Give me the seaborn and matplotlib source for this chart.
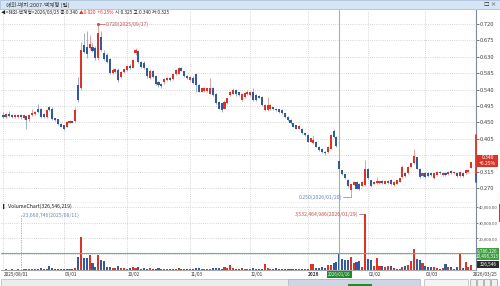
import matplotlib
matplotlib.use("Agg")
import matplotlib.pyplot as plt
import seaborn as sns
import pandas as pd
import numpy as np
from matplotlib.patches import Rectangle

sns.set_style("white")
plt.rcParams['font.family'] = ['Noto Sans CJK KR', 'DejaVu Sans']

# ---------------- data ----------------
open_ = [.470, .465, .474, .470, .465, .466, .471, .461, .467, .458, .470, .473, .488, .486, .472, .464,
         .491, .488, .461, .458, .445, .442, .438, .449, .453, .454, .552, .543, .662, .658, .653, .658,
         .653, .626, .685, .640, .635, .623, .585, .588, .594, .575, .588, .594, .606, .600, .640, .645,
         .615, .614, .598, .573, .590, .578, .560, .556, .560, .565, .572, .568, .582, .584, .600, .590,
         .578, .566, .573, .584, .552, .534, .535, .535, .529, .543, .529, .507, .502, .488, .502, .525,
         .529, .539, .532, .511, .520, .527, .525, .534, .525, .522, .520, .484, .484, .486, .491, .488,
         .486, .484, .475, .465, .456, .447, .442, .433, .433, .420, .415, .397, .392, .397, .383, .378,
         .369, .369, .378, .425, .410, .345, .318, .307, .293, .265, .279, .287, .282, .275, .278, .322,
         .291, .282, .283, .283, .289, .282, .283, .292, .278, .282, .287, .300, .312, .310, .328, .337,
         .354, .323, .302, .311, .311, .310, .296, .305, .314, .305, .311, .307, .316, .310, .311, .302,
         .310, .310, .314, .325]
high = [.478, .476, .480, .474, .473, .474, .474, .472, .470, .472, .486, .482, .500, .490, .475, .488,
        .495, .491, .463, .460, .447, .444, .455, .456, .455, .491, .575, .671, .694, .702, .690, .668,
        .660, .720, .700, .650, .640, .626, .598, .600, .598, .592, .600, .608, .610, .625, .655, .648,
        .618, .618, .600, .596, .593, .581, .563, .558, .572, .575, .575, .585, .596, .603, .603, .592,
        .580, .578, .576, .586, .555, .545, .546, .545, .571, .546, .531, .509, .504, .510, .518, .537,
        .543, .541, .534, .531, .533, .540, .536, .543, .527, .524, .522, .500, .520, .499, .493, .490,
        .488, .486, .477, .467, .458, .449, .444, .442, .435, .422, .417, .408, .415, .399, .385, .380,
        .371, .385, .417, .433, .412, .347, .320, .309, .295, .282, .289, .289, .284, .289, .346, .324,
        .293, .289, .300, .290, .293, .292, .291, .294, .289, .293, .298, .332, .314, .330, .339, .378,
        .356, .325, .312, .313, .313, .312, .312, .316, .316, .313, .313, .316, .318, .316, .313, .316,
        .312, .321, .322, .340]
low = [.462, .462, .465, .462, .462, .463, .460, .458, .433, .455, .468, .470, .477, .463, .462, .462,
       .482, .456, .454, .443, .436, .429, .436, .447, .447, .452, .506, .540, .640, .626, .648, .644,
       .620, .622, .645, .620, .614, .582, .582, .585, .562, .572, .586, .592, .596, .598, .636, .612,
       .600, .596, .573, .570, .572, .552, .548, .543, .556, .563, .563, .566, .580, .582, .590, .575,
       .569, .564, .555, .534, .532, .532, .533, .533, .527, .523, .500, .486, .479, .486, .500, .523,
       .527, .523, .522, .509, .518, .525, .523, .509, .509, .516, .495, .482, .482, .484, .484, .482,
       .477, .473, .463, .454, .445, .436, .431, .431, .418, .413, .395, .395, .390, .381, .372, .367,
       .360, .367, .376, .408, .383, .321, .305, .294, .273, .250, .277, .266, .264, .273, .276, .294,
       .273, .280, .281, .281, .282, .280, .281, .278, .276, .280, .285, .298, .301, .308, .326, .335,
       .321, .298, .300, .298, .300, .303, .294, .303, .308, .303, .303, .305, .308, .308, .300, .300,
       .300, .308, .312, .325]
close = [.466, .472, .468, .465, .470, .471, .464, .470, .456, .470, .476, .479, .479, .465, .465, .484,
         .484, .458, .456, .445, .438, .433, .452, .453, .449, .484, .511, .650, .644, .639, .665, .647,
         .626, .694, .648, .623, .617, .585, .594, .596, .566, .589, .596, .605, .598, .622, .650, .615,
         .603, .598, .576, .592, .575, .555, .552, .551, .570, .572, .566, .582, .594, .598, .592, .577,
         .571, .575, .557, .552, .534, .543, .543, .543, .543, .525, .502, .488, .484, .507, .516, .534,
         .540, .529, .525, .529, .530, .534, .534, .511, .511, .518, .497, .497, .497, .497, .486, .484,
         .479, .475, .465, .456, .447, .438, .433, .440, .420, .415, .397, .406, .401, .383, .374, .369,
         .366, .383, .415, .410, .385, .323, .307, .296, .275, .280, .287, .268, .266, .287, .322, .296,
         .275, .287, .289, .288, .284, .290, .289, .280, .287, .291, .296, .328, .303, .328, .337, .357,
         .323, .300, .310, .300, .302, .305, .310, .314, .310, .311, .305, .314, .310, .314, .302, .314,
         .302, .319, .320, .340]
volume = [300, 400, 300, 500, 300, 400, 237, 500, 900, 700, 500, 400, 800, 1000, 600, 700,
          2600, 1200, 700, 600, 500, 700, 500, 400, 600, 1500, 8300, 20600, 7300, 7500, 9600, 4700,
          1800, 9600, 6600, 5600, 1900, 1900, 1300, 1500, 2500, 1400, 1000, 900, 1000, 1800, 1200, 1700,
          900, 1100, 700, 1400, 800, 900, 1000, 600, 700, 600, 700, 700, 800, 1000, 700, 600,
          500, 700, 800, 1100, 1400, 800, 700, 600, 900, 1200, 1400, 1000, 900, 1900, 1500, 3100,
          1200, 800, 900, 1000, 900, 800, 900, 1000, 800, 700, 900, 3800, 1100, 900, 700, 1000,
          600, 600, 700, 900, 800, 600, 500, 600, 500, 600, 700, 4100, 3500, 1400, 1200, 1600,
          1500, 2900, 3400, 4600, 5300, 10500, 6800, 6300, 6300, 8300, 4500, 4900, 5700, 2200, 35300, 6700,
          6100, 2400, 7400, 2700, 2300, 2000, 2300, 2400, 1100, 600, 800, 1800, 2700, 3400, 5700, 13500,
          7200, 6500, 4600, 2700, 1800, 2200, 1600, 1200, 800, 1200, 3600, 1600, 1800, 800, 1800, 9900,
          1200, 5100, 2200, 3265]
price_ticks = [0.720, 0.675, 0.630, 0.585, 0.540, 0.495, 0.450, 0.405, 0.360, 0.315, 0.270]
vol_ticks = [20000, 30000, 40000]
date_tick_pos = [0, 21, 43, 65, 86, 106, 127, 147]
date_tick_labels = ['2025/08/01', '09/01', '10/02', '11/03', '12/01', '2026', '02/02', '03/03']
cursor_pos = 117
cursor_label = '2026/01/16'
last_label = '2026/03/25'
vol_ref_level = 10600

RED = '#dc3327'
BLUE = '#345a9e'
RED_W = '#e3948d'
BLUE_W = '#8fa2c6'
GRID = '#c9c9c9'

W, H = 500, 286
fig = plt.figure(figsize=(5, 2.86), dpi=100)
fig.patch.set_facecolor('white')

def fx(px):
    return px / W

def fy(py):
    return 1 - py / H

ax = fig.add_axes([fx(1), fy(203), fx(475), (203 - 10) / H])
axv = fig.add_axes([fx(1), fy(270), fx(475), (270 - 203) / H])

n = len(close)
idx = np.arange(n)
o = np.array(open_); c = np.array(close); hi = np.array(high); lo = np.array(low)
up = c >= o
df = pd.DataFrame({'idx': idx, 'vol': volume, 'dir': np.where(up, 'up', 'down')})

# ---------------- price panel ----------------
ax.vlines(idx[up], lo[up], hi[up], color=RED_W, lw=0.6, zorder=2)
ax.vlines(idx[~up], lo[~up], hi[~up], color=BLUE_W, lw=0.6, zorder=2)
body = np.maximum(np.abs(c - o), 0.0015)
ax.bar(idx, body, bottom=np.minimum(o, c), width=0.72,
       color=np.where(up, RED, BLUE), linewidth=0, zorder=3)

XL = (-0.87, 164.63)
ax.set_xlim(*XL)
ax.set_ylim(0.2285, 0.7585)
ax.yaxis.tick_right()
ax.set_yticks(price_ticks)
ax.set_yticklabels(['' if abs(v - 0.360) < 1e-6 else f'{v:.3f}' for v in price_ticks])
ax.set_xticks(date_tick_pos)
ax.tick_params(axis='x', length=0, labelbottom=False)
ax.tick_params(axis='y', labelsize=4.2, length=2, width=0.5, pad=1,
               colors='#444444', direction='out')
ax.grid(True, ls=(0, (1, 1.6)), color=GRID, lw=0.6)
for s in ['left', 'top']:
    ax.spines[s].set_visible(False)
ax.spines['right'].set_color('#7b8aa0'); ax.spines['right'].set_linewidth(0.8)
ax.spines['bottom'].set_color('#a6a6a6'); ax.spines['bottom'].set_linewidth(0.9)

ax.axvline(cursor_pos, color='#8cc48c', lw=0.8, zorder=1)

ax.plot([XL[1], XL[1]], [0.305, 0.415], color=RED, lw=1.3, clip_on=False, zorder=5)
ax.plot([XL[1], XL[1]], [0.285, 0.305], color=BLUE, lw=1.3, clip_on=False, zorder=5)

imax = int(np.argmax(hi)); imin = int(np.argmin(lo))
ax.plot([imax, imax + 2.3], [hi[imax], hi[imax]], color='#c0504d', lw=0.5)
ax.plot([imax], [hi[imax]], marker='o', ms=1.2, color='#c0504d')
ax.text(imax + 2.5, hi[imax], '0.720(2025/09/17)', fontsize=3.7, color='#c0504d',
        va='center', ha='left')
ax.plot([imin - 2.8, imin, imin], [0.2445, 0.2445, lo[imin]], color='#6d86b8', lw=0.5)
ax.text(imin - 3.0, 0.2445, '0.250(2026/01/20)', fontsize=3.7, color='#6d86b8',
        va='center', ha='right')

# ---------------- volume panel (seaborn) ----------------
sns.barplot(data=df, x='idx', y='vol', hue='dir', palette={'up': RED, 'down': BLUE},
            native_scale=True, width=0.72, dodge=False, legend=False, errorbar=None,
            saturation=1, linewidth=0, ax=axv)
axv.set_xlim(*XL)
axv.set_ylim(0, 42400)
axv.yaxis.tick_right()
axv.set_yticks([10000] + vol_ticks)
axv.set_yticklabels([''] + [f'{v:,.2f}' for v in vol_ticks])
axv.set_xticks(date_tick_pos)
axv.tick_params(axis='x', length=0, labelbottom=False)
axv.tick_params(axis='y', labelsize=3.0, length=1.5, width=0.5, pad=0.5, colors='#444444')
axv.grid(True, ls=(0, (1, 1.6)), color=GRID, lw=0.6)
axv.set_xlabel(''); axv.set_ylabel('')
for s in ['left', 'top']:
    axv.spines[s].set_visible(False)
axv.spines['right'].set_color('#7b8aa0'); axv.spines['right'].set_linewidth(0.8)
axv.spines['bottom'].set_color('#a6a6a6'); axv.spines['bottom'].set_linewidth(0.8)
axv.axvline(cursor_pos, color='#8cc48c', lw=0.8, zorder=1)
axv.axhline(vol_ref_level, color='#6fb86f', lw=0.8, zorder=1)

vmax_i = int(np.argmax(volume)); vmin_i = int(np.argmin(volume))
axv.plot([vmax_i - 2.2, vmax_i], [volume[vmax_i], volume[vmax_i]], color='#c0504d', lw=0.5)
axv.text(vmax_i - 2.4, volume[vmax_i], '3,532,464,986(2026/01/29)', fontsize=3.7,
         color='#c0504d', va='center', ha='right')
axv.plot([vmin_i, vmin_i], [0, 34800], color='#9a9a9a', lw=0.5, ls=(0, (2, 1.5)))
axv.text(vmin_i + 0.3, 34800, '-23,660,746(2025/08/11)', fontsize=3.7, color='#6d86b8',
         va='center', ha='left')
axv.text(0.004, 0.955, '\u258eVolumeChart(326,546,219)', transform=axv.transAxes,
         fontsize=3.7, color='#222222', va='center', ha='left')

# ---------------- frame decorations ----------------
fig.patches.append(Rectangle((0, fy(9)), 1, 9 / H, transform=fig.transFigure,
                             facecolor='#d6e5f4', edgecolor='#a9c2de', lw=0.6))
fig.text(fx(6), fy(4.5), '해외-배지:2007-백계형 (일)', fontsize=4.0, color='#333333',
         va='center', ha='left')
fig.text(fx(484), fy(4.5), '\u25a1 \u00d7', fontsize=4, color='#333333', va='center', ha='left')

renderer = fig.canvas.get_renderer()
xpos = fx(1)
segments = [('\u25c0<해외-백계형>2026/03/25 종:0.340 ', '#222222'),
            ('\u25b20.020  +6.25% ', RED),
            (' 시:0.325 고:0.340 저:0.325', '#222222')]
for txt, col in segments:
    t = fig.text(xpos, fy(12.5), txt, fontsize=3.4, color=col, va='center', ha='left')
    bb = t.get_window_extent(renderer=renderer)
    xpos = bb.x1 / W

fig.patches.append(Rectangle((fx(477), fy(167)), fx(21), 12.5 / H, transform=fig.transFigure,
                             facecolor=RED, edgecolor='none'))
fig.text(fx(487.5), fy(157.8), '0.340', fontsize=3.6, color='white', ha='center', va='center')
fig.text(fx(487.5), fy(163.6), '+6.25%', fontsize=3.6, color='white', ha='center', va='center')

fig.patches.append(Rectangle((fx(476.5), fy(259.5)), fx(22.5), 11.5 / H, transform=fig.transFigure,
                             facecolor='#3e9f3e', edgecolor='none'))
fig.text(fx(487.5), fy(251), '9,786,126', fontsize=3.3, color='white', ha='center', va='center')
fig.text(fx(487.5), fy(256.5), '10,496,313', fontsize=3.3, color='white', ha='center', va='center')
fig.patches.append(Rectangle((fx(477), fy(267.5)), fx(22), 6.5 / H, transform=fig.transFigure,
                             facecolor='#2b2b2b', edgecolor='none'))
fig.text(fx(488), fy(264.3), '326,546', fontsize=3.4, color='white', ha='center', va='center')
fig.patches.append(Rectangle((fx(498.8), fy(222)), fx(1.2), 18 / H, transform=fig.transFigure,
                             facecolor=RED, edgecolor='none'))

for p, lab in zip(date_tick_pos, date_tick_labels):
    px = 3.5 + 2.87 * p + 0.5
    fig.text(fx(px), fy(274.5), lab, fontsize=3.4, color='#333333', ha='left', va='center',
             fontweight='bold' if lab == '2026' else 'normal')
cx = 3.5 + 2.87 * cursor_pos
fig.patches.append(Rectangle((fx(cx - 12.5), fy(278)), fx(25), 7 / H, transform=fig.transFigure,
                             facecolor='#1f8a2e', edgecolor='none'))
fig.text(fx(cx), fy(274.5), cursor_label, fontsize=3.1, color='white', ha='center', va='center')
fig.text(fx(498), fy(274.5), last_label, fontsize=3.4, color='#333333', ha='right', va='center')

fig.patches.append(Rectangle((fx(1), fy(285.5)), fx(418), 6.5 / H, transform=fig.transFigure,
                             facecolor='#ececec', edgecolor='#b5b5b5', lw=0.5))
fig.patches.append(Rectangle((fx(288), fy(285.5)), fx(132), 6.5 / H, transform=fig.transFigure,
                             facecolor='#cdd6e2', edgecolor='#aab6c6', lw=0.5))
fig.patches.append(Rectangle((fx(348), fy(286)), fx(24), 2 / H, transform=fig.transFigure,
                             facecolor='#1f8a2e', edgecolor='none'))
fig.patches.append(Rectangle((fx(424), fy(285.5)), fx(44), 6.5 / H, transform=fig.transFigure,
                             facecolor='#f4f4f4', edgecolor='#b5b5b5', lw=0.5))
for bx in [470, 477, 484, 491]:
    fig.patches.append(Rectangle((fx(bx), fy(285.5)), fx(6), 6.5 / H, transform=fig.transFigure,
                                 facecolor='#f0f0f0', edgecolor='#9a9a9a', lw=0.5))

fig.savefig('out.png', dpi=100, facecolor='white')
